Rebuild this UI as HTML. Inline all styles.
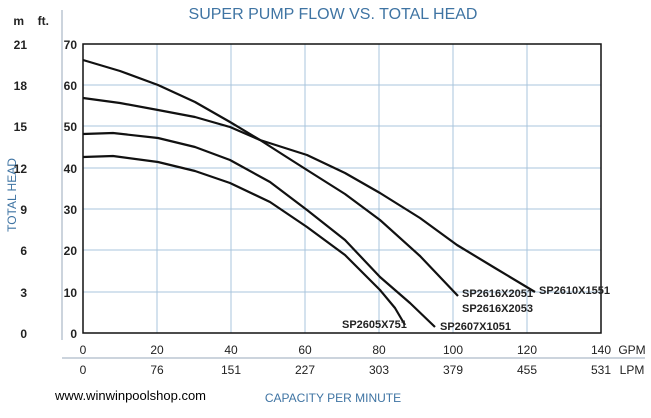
<!DOCTYPE html>
<html><head><style>body{margin:0;background:#fff}svg{display:block}</style></head><body>
<svg width="651" height="418" xmlns="http://www.w3.org/2000/svg" font-family="Liberation Sans, sans-serif">
<text x="333" y="19" text-anchor="middle" font-size="16" fill="#3f74a3">SUPER PUMP FLOW VS. TOTAL HEAD</text>
<text transform="translate(16,195) rotate(-90)" text-anchor="middle" font-size="12" fill="#3f74a3">TOTAL HEAD</text>
<text x="333" y="402" text-anchor="middle" font-size="12" fill="#3f74a3">CAPACITY PER MINUTE</text>
<text x="55" y="400" font-size="13" fill="#000">www.winwinpoolshop.com</text>
<line x1="62" y1="10" x2="62" y2="340" stroke="#9ab" stroke-width="1"/>
<line x1="62" y1="358" x2="645" y2="358" stroke="#9ab" stroke-width="1"/>
<g stroke="#a9c4dc" stroke-width="1">
<line x1="157" y1="44" x2="157" y2="333"/><line x1="231" y1="44" x2="231" y2="333"/><line x1="305" y1="44" x2="305" y2="333"/><line x1="379" y1="44" x2="379" y2="333"/><line x1="453" y1="44" x2="453" y2="333"/><line x1="527" y1="44" x2="527" y2="333"/>
<line x1="83" y1="85" x2="601" y2="85"/><line x1="83" y1="126" x2="601" y2="126"/><line x1="83" y1="168" x2="601" y2="168"/><line x1="83" y1="209" x2="601" y2="209"/><line x1="83" y1="250" x2="601" y2="250"/><line x1="83" y1="292" x2="601" y2="292"/>
</g>
<rect x="83" y="44" width="518" height="289" fill="none" stroke="#111" stroke-width="1.5"/>
<g font-size="12" font-weight="bold" fill="#222" text-anchor="end">
<text x="24" y="25">m</text><text x="49" y="25">ft.</text>
<text x="27" y="49">21</text><text x="27" y="90">18</text><text x="27" y="131">15</text><text x="27" y="173">12</text><text x="27" y="214">9</text><text x="27" y="255">6</text><text x="27" y="297">3</text><text x="27" y="338">0</text>
<text x="77" y="49">70</text><text x="77" y="90">60</text><text x="77" y="131">50</text><text x="77" y="173">40</text><text x="77" y="214">30</text><text x="77" y="255">20</text><text x="77" y="297">10</text><text x="77" y="338">0</text>
</g>
<g font-size="12" fill="#222" text-anchor="middle">
<text x="83" y="354">0</text><text x="157" y="354">20</text><text x="231" y="354">40</text><text x="305" y="354">60</text><text x="379" y="354">80</text><text x="453" y="354">100</text><text x="527" y="354">120</text><text x="601" y="354">140</text>
<text x="83" y="374">0</text><text x="157" y="374">76</text><text x="231" y="374">151</text><text x="305" y="374">227</text><text x="379" y="374">303</text><text x="453" y="374">379</text><text x="527" y="374">455</text><text x="601" y="374">531</text>
<text x="632" y="354">GPM</text><text x="632" y="374">LPM</text>
</g>
<g fill="none" stroke="#111" stroke-width="2.2" stroke-linejoin="round">
<polyline points="83,60 120,71 158,85 195,102 230,122 260,140 285,156 307,170 345,194 380,220 420,256 458,296"/>
<polyline points="83,98 120,103 158,110 195,117 230,127 260,140 285,148 307,155 345,173 380,193 420,218 457,245 495,268 535,292"/>
<polyline points="83,134 113,133 158,138 195,147 230,160 270,182 307,210 345,240 380,277 410,303 435,327"/>
<polyline points="83,157 113,156 158,162 195,171 230,183 270,202 307,227 345,255 380,290 395,308 405,325"/>
</g>
<g font-size="11" font-weight="bold" fill="#222">
<text x="539" y="294">SP2610X1551</text>
<text x="462" y="297">SP2616X2051</text>
<text x="462" y="312">SP2616X2053</text>
<text x="440" y="330">SP2607X1051</text>
<text x="342" y="328">SP2605X751</text>
</g>
</svg>
</body></html>
